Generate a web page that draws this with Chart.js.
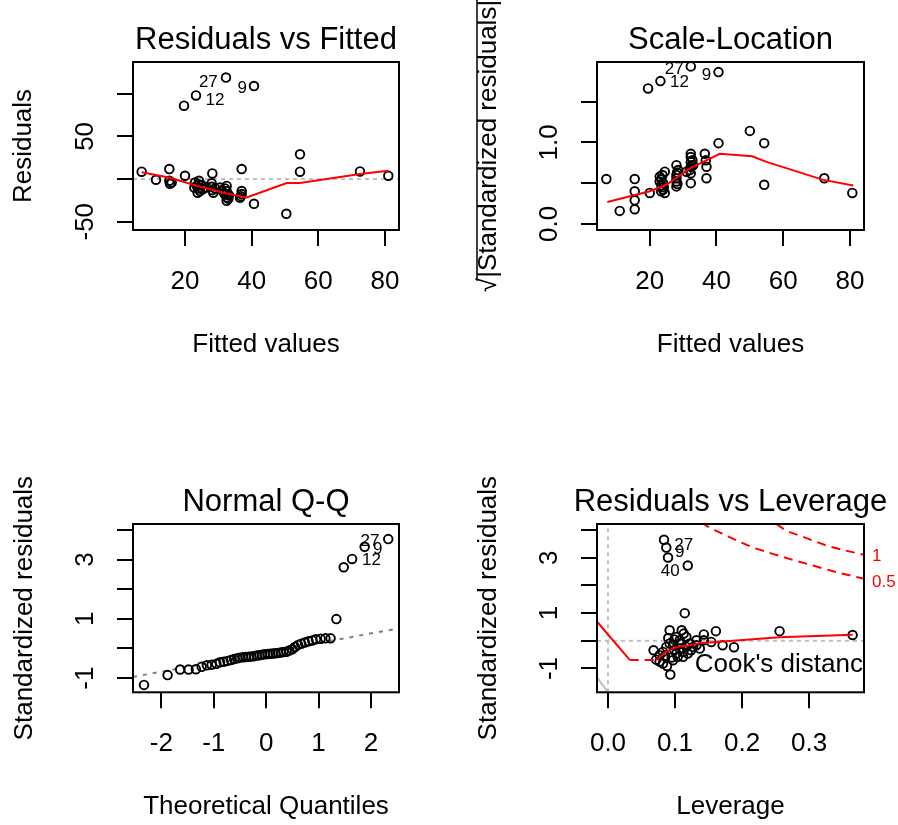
<!DOCTYPE html>
<html>
<head>
<meta charset="utf-8">
<script src="https://cdn.jsdelivr.net/npm/chart.js@4.4.1/dist/chart.umd.min.js"></script>
<style>
  body { margin: 0; background: #fff; width: 898px; height: 825px; position: relative; overflow: hidden; }
  canvas { position: absolute; }
</style>
</head>
<body>
<canvas id="c1" width="449" height="412" style="left:0;top:0"></canvas>
<canvas id="c2" width="449" height="412" style="left:449px;top:0"></canvas>
<canvas id="c3" width="449" height="413" style="left:0;top:412px"></canvas>
<canvas id="c4" width="449" height="413" style="left:449px;top:412px"></canvas>
<script>
const FONT = "'Liberation Sans', Arial, Helvetica, sans-serif";

// Residuals vs Fitted
const fittedRF = [7.0, 11.3, 15.3, 15.3, 15.5, 19.7, 20.0, 23.3, 32.3, 40.7, 23.0, 23.5, 24.0, 24.5, 25.0, 23.8, 24.2, 28.2, 28.0, 28.3,
  28.5, 30.5, 31.0, 32.5, 32.5, 32.5, 32.5, 32.5, 33.0, 37.0, 37.0, 37.0, 36.5, 40.7, 50.4, 54.5, 54.5, 72.5, 81.0, 26.5,
  24.0, 22.8, 29.0, 31.8, 32.0, 36.8, 28.0, 33.2, 25.3, 16.0];
const residRF = [8.6, -0.8, 11.7, -2.0, -5.5, 86, 3.9, 98, 119, 109, -4, -8, -11, -14, -7, -16, -2, 6.6, -9, -13,
  -16, -10, -13, -8, -14, -18, -21.5, -25.5, -23, 11.7, -14, -17.6, -22, -29, -40.7, 29, 8.6, 8.9, 3.9, -10,
  -6, -10, -11, -17, -11, -20, -5, -19, -12, -4];
const smoothRFx = [7.0, 15.5, 23.5, 32.5, 38.5, 50.5, 54.5, 72.5, 81.0];
const smoothRFy = [8.0, 1.5, -7.9, -16.9, -21.6, -4.7, -4.5, 5.9, 9.7];
const idRF = ['27', '12', '9'];
const idRFx = [27.0, 29.0, 37.2];
const idRFy = [113, 92, 106];

// Scale-Location
const fittedSL = [7.0, 11.0, 15.5, 15.5, 15.5, 15.5, 19.5, 20.0, 23.2, 32.3, 40.6, 23.0, 23.0, 23.5, 24.0, 24.5, 24.5, 23.5, 28.0, 28.0,
  28.0, 28.0, 28.5, 32.3, 32.3, 32.3, 32.3, 32.3, 32.3, 36.5, 37.0, 37.0, 40.6, 50.0, 54.3, 54.3, 72.3, 80.7, 24.0, 28.0,
  31.0, 32.8, 36.8, 24.2, 23.8, 28.3, 32.0, 23.4, 28.2, 33.0];
const sqrtStdSL = [0.55, 0.16, 0.55, 0.40, 0.29, 0.18, 1.66, 0.38, 1.75, 1.93, 1.86, 0.58, 0.52, 0.47, 0.42, 0.38, 0.64, 0.55, 0.72, 0.60,
  0.52, 0.46, 0.66, 0.86, 0.82, 0.76, 0.70, 0.62, 0.50, 0.86, 0.70, 0.56, 0.99, 1.14, 0.99, 0.48, 0.56, 0.38, 0.50, 0.56,
  0.64, 0.78, 0.78, 0.45, 0.60, 0.49, 0.66, 0.40, 0.63, 0.72];
const smoothSLx = [7.3, 20, 25, 32, 41, 50.7, 55, 72, 81];
const smoothSLy = [0.27, 0.40, 0.48, 0.68, 0.86, 0.83, 0.76, 0.54, 0.47];
const idSL = ['27', '12', '9'];
const idSLx = [27.35, 28.9, 37.0];
const idSLy = [1.90, 1.73, 1.82];

// Normal Q-Q
const qqTheo = [-2.33, -1.88, -1.64, -1.48, -1.34, -1.23, -1.13, -1.04, -0.95, -0.88, -0.81, -0.74, -0.67, -0.61, -0.55, -0.50, -0.44,
  -0.39, -0.33, -0.28, -0.23, -0.18, -0.13, -0.08, -0.03, 0.03, 0.08, 0.13, 0.18, 0.23, 0.28, 0.33, 0.39, 0.44, 0.50, 0.55,
  0.61, 0.67, 0.74, 0.81, 0.88, 0.95, 1.04, 1.13, 1.23, 1.34, 1.48, 1.64, 1.88, 2.33];
const qqStd = [-1.23, -0.90, -0.71, -0.71, -0.70, -0.62, -0.57, -0.55, -0.52, -0.47, -0.45, -0.42, -0.39, -0.36, -0.33, -0.31, -0.30,
  -0.29, -0.28, -0.27, -0.26, -0.24, -0.23, -0.21, -0.20, -0.19, -0.18, -0.17, -0.16, -0.15, -0.14, -0.12, -0.11, -0.07, -0.03, 0.05,
  0.12, 0.16, 0.20, 0.24, 0.27, 0.31, 0.33, 0.34, 0.34, 0.99, 2.74, 3.02, 3.43, 3.69];
const qqLineX = [-2.54, 2.54];
const qqLineY = [-0.96, 0.68];
const idQQ = ['27', '9', '12'];
const idQQx = [1.98, 2.13, 2.01];
const idQQy = [3.60, 3.35, 2.96];

// Residuals vs Leverage
const leverage = [0.0836, 0.087, 0.0896, 0.119, 0.1145, 0.092, 0.110, 0.113, 0.102, 0.090, 0.107, 0.117, 0.143, 0.143, 0.161, 0.154,
  0.171, 0.188, 0.256, 0.365, 0.068, 0.072, 0.077, 0.082, 0.087, 0.092, 0.097, 0.099, 0.102, 0.107, 0.112, 0.117, 0.119, 0.122,
  0.124, 0.127, 0.132, 0.077, 0.082, 0.088, 0.093, 0.097, 0.104, 0.112, 0.107, 0.099, 0.132, 0.137, 0.095, 0.085];
const stdResLev = [3.65, 3.37, 3.01, 2.72, 1.00, 0.38, 0.38, 0.26, 0.14, 0.10, 0.02, 0.14, 0.23, 0.02, 0.35, -0.04,
  -0.16, -0.23, 0.35, 0.21, -0.34, -0.68, -0.52, -0.40, -0.22, -0.10, -0.16, -0.34, -0.46, -0.28, -0.40, -0.22, -0.46, -0.10,
  -0.34, -0.22, -0.16, -0.75, -0.82, -0.91, -1.22, -0.70, -0.58, -0.58, -0.10, 0.05, 0.02, -0.28, -0.60, -0.55];
const smoothLevX = [0.072, 0.087, 0.1045, 0.119, 0.137, 0.256, 0.365];
const smoothLevY = [-0.69, -0.39, -0.21, -0.18, -0.09, 0.13, 0.22];
const edgeLevX = [-0.018, 0.0324];
const edgeLevY = [0.74, -0.69];
const greyLevX = [-0.0173, 0.0];
const greyLevY = [-1.29, -1.86];
const cook1x = [0.2513, 0.266, 0.286, 0.306, 0.326, 0.351, 0.382];
const cook1y = [4.22, 3.97, 3.80, 3.62, 3.44, 3.28, 3.11];
const cook05x = [0.140, 0.147, 0.167, 0.187, 0.216, 0.246, 0.276, 0.306, 0.336, 0.382];
const cook05y = [4.30, 4.15, 3.91, 3.68, 3.37, 3.14, 2.92, 2.72, 2.51, 2.24];
const cookLevels = ['1', '0.5'];
const cookLevelY = [3.06, 2.12];
const legendDashX = [0.0324, 0.072];
const legendDashY = [-0.69, -0.69];
const idLev = ['27', '9', '40'];
const idLevx = [0.113, 0.107, 0.093];
const idLevy = [3.46, 3.19, 2.52];

// tick positions and labels
const fitTicks = [20, 40, 60, 80];
const fitTickLabels = ['20', '40', '60', '80'];
const residTicks = [-50, 0, 50, 100];
const residTickLabels = ['-50', '50'];
const slTicks = [0, 0.5, 1.0, 1.5];
const slTickLabels = ['0.0', '1.0'];
const qqTicks = [-2, -1, 0, 1, 2];
const qqTickLabels = ['-2', '-1', '0', '1', '2'];
const stdTicks = [-1, 0, 1, 2, 3, 4];
const stdTickLabels = ['-1', '1', '3'];
const levTicks = [0, 0.1, 0.2, 0.3];
const levTickLabels = ['0.0', '0.1', '0.2', '0.3'];

const pts = (xs, ys) => xs.map((v, i) => ({ x: v, y: ys[i] }));

function points(xs, ys) {
  return { data: pts(xs, ys), showLine: false, pointRadius: 4.3, pointBorderWidth: 1.9,
    pointBorderColor: '#000', pointBackgroundColor: 'rgba(0,0,0,0)', order: 5 };
}
function line(xs, ys, color, dash, order) {
  return { data: pts(xs, ys), showLine: true, pointRadius: 0, borderColor: color, borderWidth: 2,
    borderDash: dash || [], fill: false, tension: 0, order: order || 1 };
}

function panel(id, c) {
  const deco = {
    id: 'deco' + id,
    afterDraw(chart) {
      const { ctx, chartArea: a } = chart;
      const sx = chart.scales.x, sy = chart.scales.y;
      ctx.save();
      ctx.strokeStyle = '#000';
      ctx.lineWidth = 2;
      ctx.strokeRect(a.left, a.top, a.right - a.left, a.bottom - a.top);

      // main title, centred on the plot box and free to overflow it like R
      ctx.fillStyle = '#000';
      ctx.textAlign = 'center';
      ctx.textBaseline = 'middle';
      ctx.font = '31px ' + FONT;
      ctx.fillText(c.title, (a.left + a.right) / 2, a.top - 22);

      // y tick labels parallel to the axis, as R draws them
      ctx.font = '26px ' + FONT;
      c.yLabels.forEach(t => {
        ctx.save();
        ctx.translate(a.left - 47, sy.getPixelForValue(parseFloat(t)));
        ctx.rotate(-Math.PI / 2);
        ctx.fillText(t, 0, 0);
        ctx.restore();
      });

      if (c.overline) {
        const w = ctx.measureText(c.yTitle).width;
        const sw = ctx.measureText('√').width;
        const tx = sy.left + 13 + c.yTitlePad - 12;
        const cy = (a.top + a.bottom) / 2;
        ctx.lineWidth = 1.5;
        ctx.beginPath();
        ctx.moveTo(tx, cy + w / 2 - sw * 0.8);
        ctx.lineTo(tx, cy - w / 2);
        ctx.stroke();
      }

      (c.texts || []).forEach(t => {
        ctx.save();
        if (t.clip) {
          ctx.beginPath();
          ctx.rect(a.left, a.top, a.right - a.left, a.bottom - a.top);
          ctx.clip();
        }
        ctx.font = t.size + 'px ' + FONT;
        ctx.fillStyle = t.color || '#000';
        ctx.textAlign = t.align || 'center';
        const px = t.right ? a.right + t.dx : sx.getPixelForValue(t.x);
        ctx.fillText(t.t, px, sy.getPixelForValue(t.y));
        ctx.restore();
      });
      ctx.restore();
    }
  };

  return new Chart(document.getElementById(id), {
    type: 'scatter',
    data: { datasets: c.datasets },
    options: {
      responsive: false,
      animation: false,
      devicePixelRatio: 1,
      events: [],
      layout: { padding: { left: 0, top: c.top, right: c.padRight, bottom: 0 } },
      plugins: {
        legend: { display: false },
        tooltip: { enabled: false },
        title: { display: false }
      },
      scales: {
        x: {
          type: 'linear', min: c.xMin, max: c.xMax, bounds: 'data',
          afterBuildTicks: s => { s.ticks = c.xTicks.map(v => ({ value: v })); },
          afterFit: s => { s.height = c.height - c.bottom; s.paddingLeft = 0; s.paddingRight = 0; },
          ticks: {
            autoSkip: false, maxRotation: 0, minRotation: 0, padding: 23, color: '#000',
            font: { family: FONT, size: 26, lineHeight: 1 },
            callback: (v, i) => c.xLabels[i]
          },
          grid: { display: true, drawOnChartArea: false, drawTicks: true, tickLength: 16, color: '#000', lineWidth: 2 },
          border: { display: false },
          title: {
            display: true, text: c.xTitle, color: '#000',
            font: { family: FONT, size: 26, lineHeight: 1 },
            padding: { top: 0, bottom: c.xTitlePad }
          }
        },
        y: {
          type: 'linear', min: c.yMin, max: c.yMax, bounds: 'data',
          afterBuildTicks: s => { s.ticks = c.yTicks.map(v => ({ value: v })); },
          afterFit: s => { s.width = c.left; s.paddingTop = 0; s.paddingBottom = 0; },
          ticks: { display: false },
          grid: { display: true, drawOnChartArea: false, drawTicks: true, tickLength: 16, color: '#000', lineWidth: 2 },
          border: { display: false },
          title: {
            display: true, text: c.yTitle, color: '#000',
            font: { family: FONT, size: 26, lineHeight: 1 },
            padding: { top: c.yTitlePad, bottom: 0 }
          }
        }
      }
    },
    plugins: [deco]
  });
}

const idText = (labels, xs, ys) => labels.map((t, i) => ({ t, x: xs[i], y: ys[i], size: 17 }));

panel('c1', {
  title: 'Residuals vs Fitted', xTitle: 'Fitted values', yTitle: 'Residuals',
  top: 62, bottom: 230, height: 412, left: 133, padRight: 50, xTitlePad: 54, yTitlePad: 11,
  xMin: 4.4, xMax: 84.2, yMin: -59.7, yMax: 137.2,
  xTicks: fitTicks, xLabels: fitTickLabels, yTicks: residTicks, yLabels: residTickLabels,
  datasets: [
    line(smoothRFx, smoothRFy, '#ff0000', [], 1),
    line([4.4, 84.2], [0, 0], '#bebebe', [4, 4], 6),
    points(fittedRF, residRF)
  ],
  texts: idText(idRF, idRFx, idRFy)
});

panel('c2', {
  title: 'Scale-Location', xTitle: 'Fitted values', yTitle: '√|Standardized residuals|', overline: true,
  top: 62, bottom: 230, height: 412, left: 148, padRight: 34, xTitlePad: 54, yTitlePad: 27,
  xMin: 4.2, xMax: 84.2, yMin: -0.074, yMax: 1.984,
  xTicks: fitTicks, xLabels: fitTickLabels, yTicks: slTicks, yLabels: slTickLabels,
  datasets: [
    line(smoothSLx, smoothSLy, '#ff0000', [], 1),
    points(fittedSL, sqrtStdSL)
  ],
  texts: idText(idSL, idSLx, idSLy)
});

panel('c3', {
  title: 'Normal Q-Q', xTitle: 'Theoretical Quantiles', yTitle: 'Standardized residuals',
  top: 112, bottom: 280.3, height: 413, left: 133, padRight: 50, xTitlePad: 5, yTitlePad: 12,
  xMin: -2.54, xMax: 2.535, yMin: -1.48, yMax: 4.2,
  xTicks: qqTicks, xLabels: qqTickLabels, yTicks: stdTicks, yLabels: stdTickLabels,
  datasets: [
    points(qqTheo, qqStd),
    line(qqLineX, qqLineY, '#7f7f7f', [4, 6], 6)
  ],
  texts: idText(idQQ, idQQx, idQQy)
});

panel('c4', {
  title: 'Residuals vs Leverage', xTitle: 'Leverage', yTitle: 'Standardized residuals',
  top: 112, bottom: 280.3, height: 413, left: 148, padRight: 34, xTitlePad: 5, yTitlePad: 27,
  xMin: -0.0164, xMax: 0.382, yMin: -1.86, yMax: 4.22,
  xTicks: levTicks, xLabels: levTickLabels, yTicks: stdTicks, yLabels: stdTickLabels,
  datasets: [
    line(smoothLevX, smoothLevY, '#ff0000', [], 1),
    line(edgeLevX, edgeLevY, '#ff0000', [], 1),
    line(legendDashX, legendDashY, '#ff0000', [9, 6], 1),
    line(cook1x, cook1y, '#ff0000', [9, 6], 2),
    line(cook05x, cook05y, '#ff0000', [9, 6], 2),
    line([0, 0], [-1.86, 4.22], '#bebebe', [4, 4], 6),
    line([-0.0164, 0.382], [0, 0], '#bebebe', [4, 4], 6),
    line(greyLevX, greyLevY, '#bebebe', [], 6),
    points(leverage, stdResLev)
  ],
  texts: idText(idLev, idLevx, idLevy)
    .concat(cookLevels.map((t, i) => ({ t, right: true, dx: 8, y: cookLevelY[i], size: 17, color: '#ff0000', align: 'left' })))
    .concat([{ t: "Cook's distance", x: 0.1294, y: -0.85, size: 26, align: 'left', clip: true }])
});
</script>
</body>
</html>
